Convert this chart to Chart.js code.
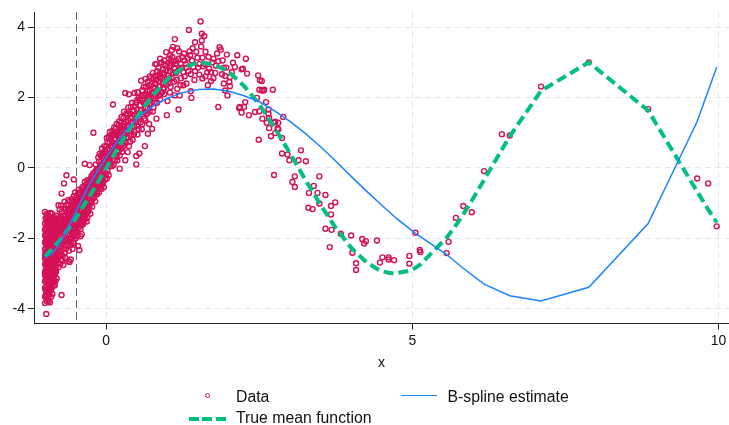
<!DOCTYPE html>
<html>
<head>
<meta charset="utf-8">
<title>B-spline estimate</title>
<script src="https://cdn.jsdelivr.net/npm/chart.js@4.4.1/dist/chart.umd.min.js"></script>
<style>
    html, body { margin: 0; padding: 0; background: #ffffff; }
    #wrap { position: relative; width: 729px; height: 425px; font-family: "Liberation Sans", Arial, sans-serif; }
    #plot { position: absolute; left: 0; top: 0; }
    .lg-text { position: absolute; font-size: 15.8px; line-height: 18px; color: #111; white-space: nowrap; }
    .lg-mark { position: absolute; }
</style>
</head>
<body>
<div id="wrap">
    <canvas id="plot" width="729" height="425"></canvas>
    <div class="lg-mark" style="left:204.6px; top:393px; width:3.2px; height:3.2px; border:1.3px solid #d41159; border-radius:50%;"></div>
    <div class="lg-text" style="left:236px; top:387.5px;">Data</div>
    <div class="lg-mark" style="left:401px; top:395px; width:36px; height:0; border-top:1.5px solid #1a85ff;"></div>
    <div class="lg-text" style="left:447.5px; top:387.5px;">B-spline estimate</div>
    <div class="lg-mark" style="left:189px; top:416.5px; width:37px; height:4px; background:repeating-linear-gradient(to right, #00bf7f 0 10px, transparent 10px 13.5px);"></div>
    <div class="lg-text" style="left:236px; top:409px;">True mean function</div>
</div>
<script>
// Axis ticks and ranges
const xTickValues = [0, 5, 10];
const yTickValues = [-4, -2, 0, 2, 4];
const refLineX = -0.5;

// True mean function (evaluated along the sorted x values)
const trueMeanX = [-1.00, -0.75, -0.50, -0.25, 0.00, 0.25, 0.50, 0.75, 1.00, 1.25, 1.50, 1.75, 2.00, 2.25, 2.50, 2.75,
    3.00, 3.25, 3.50, 3.75, 4.00, 4.25, 4.47, 4.61, 4.70, 4.95, 5.05, 5.13, 5.56, 5.59, 5.71, 5.83, 5.97,
    6.17, 6.46, 6.59, 7.10, 7.88, 8.85, 9.65, 9.83, 9.97];
const trueMeanY = [-2.52, -2.04, -1.44, -0.74, 0.00, 0.74, 1.44, 2.04, 2.52, 2.85, 2.99, 2.95, 2.73, 2.33, 1.80, 1.14,
    0.42, -0.33, -1.05, -1.71, -2.27, -2.68, -2.92, -2.98, -3.00, -2.92, -2.84, -2.74, -1.98, -1.91, -1.63, -1.32, -0.93,
    -0.34, 0.52, 0.90, 2.19, 3.00, 1.63, -0.67, -1.18, -1.55];

// B-spline estimate
const splineX = [-1.00, -0.90, -0.80, -0.70, -0.60, -0.50, -0.40, -0.30, -0.20, -0.10, 0.00, 0.20, 0.40, 0.60, 0.80,
    1.00, 1.25, 1.50, 1.75, 2.00, 2.25, 2.50, 2.75, 3.00, 3.25, 3.50, 3.75, 4.00, 4.25, 4.50, 4.75, 5.05,
    5.56, 5.83, 6.17, 6.59, 7.10, 7.88, 8.85, 9.65, 9.97];
const splineY = [-2.55, -2.45, -2.25, -1.95, -1.62, -1.27, -0.90, -0.55, -0.25, 0.02, 0.30, 0.80, 1.22, 1.55, 1.80,
    1.98, 2.14, 2.23, 2.24, 2.18, 2.05, 1.88, 1.62, 1.32, 0.98, 0.60, 0.19, -0.24, -0.66, -1.06, -1.45, -1.86,
    -2.46, -2.85, -3.30, -3.63, -3.78, -3.39, -1.58, 1.32, 2.87];

// Observed data, [x, y] pairs, grouped by region of x
const dataLeft = [
    [-1.00,-2.31],[-1.00,-2.74],[-1.00,-3.05],[-1.00,-1.92],[-1.00,-2.55],[-1.00,-3.41],[-1.00,-1.58],[-1.00,-1.25],[-1.00,-3.66],
    [-0.99,-2.62],[-0.99,-2.08],[-0.99,-3.22],[-0.99,-1.71],[-0.99,-2.89],[-0.99,-3.63],[-0.99,-2.40],
    [-0.98,-4.15],[-0.98,-2.47],[-0.98,-1.99],[-0.98,-3.10],[-0.98,-2.71],[-0.98,-1.45],[-0.98,-3.37],
    [-0.97,-2.20],[-0.97,-2.95],[-0.97,-1.83],[-0.97,-3.52],[-0.97,-2.58],[-0.97,-3.79],[-0.97,-1.30],
    [-0.96,-2.36],[-0.96,-3.01],[-0.96,-1.65],[-0.96,-2.79],[-0.96,-3.28],[-0.96,-2.12],[-0.96,-1.95],
    [-0.95,-2.67],[-0.95,-1.52],[-0.95,-3.45],[-0.95,-2.25],[-0.95,-2.93],[-0.95,-3.70],[-0.95,-2.03],
    [-0.94,-2.45],[-0.94,-1.88],[-0.94,-3.16],[-0.94,-2.70],[-0.94,-1.62],[-0.94,-3.78],[-0.94,-2.28],
    [-0.93,-2.15],[-0.93,-2.84],[-0.93,-3.33],[-0.93,-1.41],[-0.93,-2.52],[-0.93,-1.97],[-0.93,-3.08],
    [-0.92,-2.58],[-0.92,-1.76],[-0.92,-3.22],[-0.92,-2.34],[-0.92,-2.99],[-0.92,-1.55],[-0.92,-3.82],
    [-0.91,-2.04],[-0.91,-2.77],[-0.91,-3.48],[-0.91,-1.90],[-0.91,-2.41],[-0.91,-1.28],[-0.91,-3.13],
    [-0.90,-2.29],[-0.90,-1.68],[-0.90,-2.86],[-0.90,-3.30],[-0.90,-2.11],[-0.90,-3.66],[-0.90,-1.84],
    [-0.89,-2.50],[-0.89,-1.95],[-0.89,-3.04],[-0.89,-2.63],[-0.89,-1.49],[-0.89,-2.22],[-0.89,-3.41],
    [-0.88,-2.18],[-0.88,-3.58],[-0.88,-2.71],[-0.88,-1.73],[-0.88,-2.40],[-0.88,-3.12],[-0.88,-1.60],
    [-0.87,-2.06],[-0.87,-2.55],[-0.87,-1.82],[-0.87,-3.26],[-0.87,-2.88],[-0.87,-1.45],[-0.87,-2.33],
    [-0.86,-2.26],[-0.86,-1.64],[-0.86,-2.95],[-0.86,-2.47],[-0.86,-1.94],[-0.86,-3.35],[-0.86,-2.70],
    [-0.85,-1.97],[-0.85,-2.62],[-0.85,-1.58],[-0.85,-2.81],[-0.85,-3.18],[-0.85,-2.14],[-0.85,-1.40],
    [-0.84,-2.12],[-0.84,-1.80],[-0.84,-2.58],[-0.84,-3.02],[-0.84,-1.52],[-0.84,-2.37],[-0.84,-3.33],
    [-0.83,-1.88],[-0.83,-2.45],[-0.83,-2.96],[-0.83,-1.68],[-0.83,-2.20],[-0.83,-1.47],[-0.83,-3.21],
    [-0.82,-2.03],[-0.82,-1.60],[-0.82,-2.52],[-0.82,-2.78],[-0.82,-1.86],[-0.82,-2.31],[-0.82,-1.35],
    [-1.00,-2.12],[-1.00,-2.98],[-1.00,-1.76],[-1.00,-3.22],[-1.00,-2.47],[-1.00,-3.84],
    [-0.99,-1.88],[-0.99,-2.51],[-0.99,-3.46],[-0.99,-1.42],[-0.99,-2.95],
    [-0.98,-2.26],[-0.98,-1.70],[-0.98,-2.88],[-0.98,-3.58],[-0.98,-2.05],
    [-0.97,-2.41],[-0.97,-1.58],[-0.97,-3.18],[-0.97,-2.74],[-0.97,-2.00],
    [-0.96,-2.60],[-0.96,-1.40],[-0.96,-3.52],[-0.96,-2.18],[-0.96,-3.05],
    [-0.95,-1.80],[-0.95,-2.44],[-0.95,-3.15],[-0.95,-2.82],[-0.95,-1.33],
    [-0.94,-2.10],[-0.94,-3.40],[-0.94,-2.55],[-0.94,-1.95],[-0.94,-2.97],
    [-0.93,-2.68],[-0.93,-1.72],[-0.93,-3.60],[-0.93,-2.35],[-0.93,-1.85],
    [-0.92,-2.10],[-0.92,-2.80],[-0.92,-1.95],[-0.92,-2.46],[-0.92,-3.40],
    [-0.91,-2.59],[-0.91,-1.60],[-0.91,-3.00],[-0.91,-2.22],[-0.91,-1.75],
    [-0.90,-2.48],[-0.90,-1.45],[-0.90,-3.10],[-0.90,-2.65],[-0.90,-1.98],
    [-0.89,-1.72],[-0.89,-2.80],[-0.89,-3.25],[-0.89,-2.05],[-0.89,-1.30],
    [-0.88,-2.55],[-0.88,-1.90],[-0.88,-2.98],[-0.88,-2.25],[-0.88,-1.42],
    [-0.87,-2.70],[-0.87,-1.62],[-0.87,-3.05],[-0.87,-2.18],
    [-0.86,-2.05],[-0.86,-1.78],[-0.86,-2.60],[-0.86,-3.10],
    [-0.85,-2.35],[-0.85,-1.85],[-0.85,-2.92],[-0.85,-1.62],
    [-0.84,-2.48],[-0.84,-1.95],[-0.84,-2.75],[-0.84,-1.65],
    [-0.83,-2.62],[-0.83,-2.05],[-0.83,-1.55],[-0.83,-2.85],
    [-0.82,-2.20],[-0.82,-1.72],[-0.82,-2.95],[-0.82,-2.45]
];

const dataRise = [
    [-0.80,-2.03],[-0.80,-2.60],[-0.80,-1.54],[-0.80,-2.23],[-0.81,-3.14],
    [-0.78,-1.78],[-0.78,-2.82],[-0.78,-1.06],[-0.78,-2.36],
    [-0.76,-1.82],[-0.76,-2.38],[-0.76,-1.18],[-0.76,-2.25],[-0.76,-1.60],
    [-0.74,-1.55],[-0.74,-2.61],[-0.74,-2.07],[-0.74,-1.07],[-0.74,-2.48],
    [-0.72,-1.56],[-0.72,-1.69],[-0.72,-2.16],[-0.72,-2.64],[-0.72,-1.44],
    [-0.70,-1.82],[-0.70,-1.64],[-0.70,-2.76],[-0.70,-1.51],[-0.73,-3.61],[-0.73,-0.73],
    [-0.68,-1.84],[-0.68,-0.96],[-0.68,-2.41],[-0.68,-1.60],[-0.68,-2.24],
    [-0.65,-0.21],[-0.66,-1.17],[-0.66,-2.30],[-0.66,-1.69],[-0.66,-2.03],
    [-0.64,-1.25],[-0.64,-1.90],[-0.64,-1.50],[-0.62,-2.64],[-0.69,-0.44],
    [-0.62,-1.32],[-0.62,-1.79],[-0.62,-0.92],[-0.60,-2.67],[-0.62,-1.35],
    [-0.60,-1.45],[-0.60,-2.02],[-0.60,-1.18],[-0.60,-2.10],[-0.60,-1.58],
    [-0.58,-1.12],[-0.58,-2.20],[-0.58,-1.59],[-0.58,-2.60],[-0.58,-1.26],
    [-0.56,-1.83],[-0.56,-1.30],[-0.56,-0.88],[-0.56,-2.00],[-0.56,-1.48],
    [-0.54,-1.12],[-0.54,-1.87],[-0.53,-0.33],[-0.54,-1.59],[-0.54,-2.13],
    [-0.52,-1.03],[-0.52,-1.95],[-0.52,-1.20],[-0.52,-1.62],[-0.52,-0.96],
    [-0.50,-1.64],[-0.50,-0.91],[-0.50,-1.49],[-0.50,-2.00],[-0.50,-1.10],
    [-0.48,-1.21],[-0.48,-1.80],[-0.48,-0.98],[-0.48,-1.66],[-0.48,-1.25],
    [-0.46,-1.56],[-0.46,-2.22],[-0.44,-2.33],[-0.46,-1.04],[-0.46,-0.72],
    [-0.44,-1.00],[-0.44,-1.62],[-0.44,-1.44],[-0.44,-0.85],[-0.42,-1.94],
    [-0.42,-0.94],[-0.42,-1.50],[-0.42,-1.39],[-0.42,-0.73],[-0.42,-1.74],
    [-0.40,-1.30],[-0.40,-0.82],[-0.40,-1.52],[-0.40,-0.95],[-0.40,-1.88],
    [-0.38,-0.69],[-0.38,-1.36],[-0.38,-1.00],[-0.38,-1.60],[-0.38,-0.75],
    [-0.36,-0.91],[-0.36,-1.37],[-0.36,-0.52],[-0.36,-1.22],[-0.36,-0.87],
    [-0.35,0.12],[-0.34,-1.12],[-0.34,-0.63],[-0.34,-1.45],[-0.34,-0.80],
    [-0.32,-0.72],[-0.32,-1.24],[-0.32,-0.46],[-0.32,-1.09],[-0.32,-1.52],
    [-0.30,-0.61],[-0.30,-1.02],[-0.27,0.08],[-0.30,-1.25],[-0.30,-0.53],
    [-0.81,-2.45],[-0.81,-1.75],[-0.81,-1.98],[-0.79,-2.20],[-0.79,-1.45],[-0.79,-2.70],[-0.79,-1.90],
    [-0.77,-1.65],[-0.77,-2.50],[-0.77,-2.05],[-0.75,-1.40],[-0.75,-2.15],[-0.75,-1.88],[-0.75,-2.72],
    [-0.73,-1.78],[-0.73,-2.35],[-0.73,-1.25],[-0.71,-2.08],[-0.71,-1.35],[-0.71,-1.72],[-0.71,-2.50],
    [-0.69,-1.52],[-0.69,-2.10],[-0.69,-1.15],[-0.67,-1.95],[-0.67,-1.38],[-0.67,-2.55],[-0.67,-1.70],
    [-0.65,-1.48],[-0.65,-2.20],[-0.65,-1.05],[-0.63,-1.62],[-0.63,-2.05],[-0.63,-1.18],[-0.63,-1.40],
    [-0.61,-1.90],[-0.61,-1.05],[-0.61,-2.35],[-0.59,-1.38],[-0.59,-1.75],[-0.59,-0.95],[-0.59,-2.00],
    [-0.57,-1.50],[-0.57,-2.15],[-0.57,-1.15],[-0.55,-1.68],[-0.55,-0.98],[-0.55,-1.35],[-0.55,-2.30],
    [-0.53,-1.28],[-0.53,-1.75],[-0.53,-0.80],[-0.51,-1.42],[-0.51,-1.85],[-0.51,-1.08],[-0.51,-0.70],
    [-0.49,-1.55],[-0.49,-1.15],[-0.49,-0.85],[-0.47,-1.30],[-0.47,-1.95],[-0.47,-0.95],[-0.47,-1.48],
    [-0.45,-1.12],[-0.45,-1.70],[-0.45,-0.62],[-0.43,-1.35],[-0.43,-0.88],[-0.43,-1.58],[-0.43,-1.05],
    [-0.41,-1.20],[-0.41,-0.65],[-0.41,-1.62],[-0.39,-0.85],[-0.39,-1.45],[-0.39,-1.10],[-0.39,-0.55],
    [-0.37,-1.25],[-0.37,-0.78],[-0.37,-1.55],[-0.35,-0.70],[-0.35,-1.15],[-0.35,-0.40],[-0.35,-0.95],
    [-0.33,-0.98],[-0.33,-0.55],[-0.33,-1.30],[-0.31,-0.82],[-0.31,-0.35],[-0.31,-1.05],[-0.31,-1.40],
    [-0.28,-0.55],[-0.28,-1.10],[-0.28,-0.38],[-0.26,-0.92],[-0.26,-0.41],[-0.26,-1.30],
    [-0.24,-0.60],[-0.24,-0.98],[-0.24,-0.23],[-0.22,-0.31],[-0.22,-0.88],[-0.22,-0.52],
    [-0.21,1.00],[-0.20,-0.72],[-0.20,-0.35],[-0.18,-0.40],[-0.18,-0.95],[-0.18,-0.11],
    [-0.16,-0.21],[-0.16,-0.66],[-0.16,-0.05],[-0.14,-0.57],[-0.14,-0.02],[-0.14,-0.35],
    [-0.12,-0.10],[-0.12,-0.70],[-0.12,0.18],[-0.10,-0.45],[-0.10,0.05],[-0.10,-0.22],
    [-0.08,-0.38],[-0.08,0.20],[-0.08,-0.60],[-0.06,0.11],[-0.06,-0.29],[-0.06,0.43],
    [-0.04,-0.21],[-0.04,0.26],[-0.04,-0.55],[-0.02,0.15],[-0.02,-0.33],[-0.02,0.47],
    [0.00,0.22],[0.00,-0.15],[0.00,0.60],[0.02,-0.08],[0.02,0.41],[0.02,0.74],
    [0.04,0.30],[0.04,-0.21],[0.04,0.88],[0.06,0.52],[0.06,0.05],[0.06,1.02],
    [0.08,0.13],[0.08,0.63],[0.08,0.40],[0.10,0.72],[0.10,0.24],[0.10,1.05],
    [0.11,1.80],[0.12,0.51],[0.12,0.08],[0.14,0.65],[0.14,0.95],[0.14,0.22],
    [0.16,0.83],[0.16,0.37],[0.16,1.12],[0.18,0.59],[0.18,1.00],[0.18,0.21],
    [0.20,0.88],[0.20,0.44],[0.20,1.21],[0.22,0.70],[0.22,-0.02],[0.22,0.35],
    [0.24,0.99],[0.24,0.55],[0.24,1.28],[0.26,0.81],[0.26,1.19],[0.26,0.46],
    [0.28,1.10],[0.28,0.62],[0.28,1.42],[0.30,0.74],[0.31,0.22],[0.30,0.95],
    [-0.29,-0.70],[-0.29,-1.20],[-0.27,-0.48],[-0.27,-0.85],[-0.27,-1.05],[-0.25,-0.75],[-0.25,-0.30],
    [-0.23,-0.45],[-0.23,-1.10],[-0.23,-0.62],[-0.21,-0.55],[-0.21,-0.15],[-0.19,-0.80],[-0.19,-0.28],
    [-0.19,-0.60],[-0.17,-0.35],[-0.17,0.10],[-0.15,-0.75],[-0.15,-0.12],[-0.15,-0.50],[-0.13,-0.25],
    [-0.13,0.30],[-0.11,-0.55],[-0.11,-0.02],[-0.11,0.40],[-0.09,-0.12],[-0.09,0.35],[-0.07,-0.48],
    [-0.07,0.02],[-0.07,0.55],[-0.05,0.05],[-0.05,-0.40],[-0.03,0.32],[-0.03,-0.10],[-0.03,0.62],
    [-0.01,0.08],[-0.01,0.45],[0.01,0.28],[0.01,-0.30],[0.01,0.85],[0.03,0.55],[0.03,0.12],
    [0.05,0.70],[0.05,0.22],[0.05,0.38],[0.07,0.85],[0.07,0.30],[0.09,0.48],[0.09,0.95],[0.09,0.05],
    [0.11,0.60],[0.11,0.35],[0.13,0.80],[0.13,1.15],[0.13,0.42],[0.15,0.55],[0.15,1.00],[0.17,0.70],
    [0.17,1.25],[0.17,0.30],[0.19,0.92],[0.19,0.50],[0.21,1.05],[0.21,0.62],[0.21,1.32],[0.23,0.85],
    [0.23,1.15],[0.25,0.55],[0.25,1.05],[0.25,1.45],[0.27,0.95],[0.27,0.70],[0.29,1.25],[0.29,0.85],[0.29,1.60]
];

const dataPeak = [
    [0.32,1.31],[0.32,0.70],[0.31,2.13],[0.35,1.52],[0.35,0.88],[0.35,1.20],[0.35,0.45],
    [0.37,2.09],[0.37,1.15],[0.37,0.62],[0.40,1.40],[0.40,0.92],[0.40,1.73],[0.40,1.05],
    [0.43,1.62],[0.43,0.80],[0.43,1.28],[0.46,2.13],[0.46,1.50],[0.46,1.02],[0.46,1.75],
    [0.49,0.34],[0.49,0.10],[0.49,1.38],[0.50,1.66],[0.50,1.20],[0.50,1.92],
    [0.53,1.45],[0.53,2.00],[0.53,1.10],[0.54,0.41],[0.56,1.78],[0.57,2.48],[0.56,1.30],[0.56,1.62],
    [0.59,1.93],[0.59,1.25],[0.59,2.21],[0.62,1.58],[0.62,2.05],[0.62,1.40],[0.63,0.62],
    [0.64,2.53],[0.65,1.85],[0.65,2.30],[0.65,1.52],[0.68,2.02],[0.68,1.70],[0.68,2.45],[0.68,0.97],
    [0.71,2.20],[0.71,1.60],[0.71,1.95],[0.71,2.60],[0.74,2.38],[0.74,1.82],[0.74,2.12],[0.75,1.11],
    [0.77,2.55],[0.77,1.98],[0.77,1.72],[0.77,2.30],[0.80,2.05],[0.80,2.62],[0.80,2.95],[0.80,2.40],
    [0.82,1.40],[0.83,2.75],[0.83,2.20],[0.83,1.85],[0.85,2.85],[0.86,2.45],[0.86,2.05],[0.88,2.32],
    [0.89,2.60],[0.89,2.15],[0.90,3.00],[0.92,2.40],[0.93,2.27],[0.93,2.80],[0.92,2.70],
    [0.95,2.52],[0.95,3.05],[0.95,2.10],[0.98,2.78],[0.98,3.29],[0.98,2.35],[0.99,1.50],
    [0.33,1.05],[0.33,1.55],[0.33,0.85],[0.36,1.35],[0.36,1.72],[0.39,1.10],[0.39,1.55],[0.39,0.75],
    [0.42,1.45],[0.42,1.85],[0.45,1.20],[0.45,1.62],[0.45,0.95],[0.48,1.85],[0.48,1.30],[0.51,1.52],
    [0.51,2.15],[0.51,0.95],[0.55,1.95],[0.55,1.40],[0.58,1.65],[0.58,2.05],[0.58,1.10],[0.61,1.85],
    [0.61,2.30],[0.64,1.70],[0.64,2.10],[0.64,1.35],[0.67,2.18],[0.67,1.55],[0.70,2.35],[0.70,1.80],
    [0.70,1.25],[0.73,2.55],[0.73,2.00],[0.76,2.15],[0.76,2.70],[0.76,1.60],[0.79,2.25],[0.79,1.85],
    [0.82,2.50],[0.82,2.95],[0.82,2.10],[0.85,2.62],[0.85,2.15],[0.88,2.70],[0.88,1.95],[0.88,3.10],
    [0.91,2.55],[0.91,2.15],[0.94,2.65],[0.94,2.95],[0.94,2.25],[0.97,2.45],[0.97,2.90],
    [1.02,3.10],[1.05,2.98],[1.08,3.15],[1.06,2.90],[1.10,3.02],[1.03,2.85],[1.09,3.44],[1.12,3.66],
    [1.05,2.30],[1.04,2.14],[1.12,2.06],[1.20,2.06],[1.18,1.66],[1.19,3.31],[1.20,2.80],[1.26,2.72],
    [1.26,2.35],[1.33,3.12],[1.36,3.31],[1.37,3.20],[1.35,3.92],[1.38,2.66],[1.38,2.18],[1.39,1.99],
    [1.41,3.40],[1.42,2.87],[1.45,3.57],[1.49,3.13],[1.54,4.16],[1.56,3.81],[1.56,3.62],[1.57,3.13],
    [1.57,2.54],[1.58,2.89],[1.60,3.75],[1.65,2.72],[1.67,3.15],[1.68,2.82],[1.71,2.72],[1.71,2.47],
    [1.83,3.03],[1.83,1.73],[1.85,3.43],[1.87,3.36],[1.89,2.66],[1.94,2.61],[1.94,2.20],[1.97,3.22],
    [1.98,2.06],
    [1.01,2.62],[1.01,2.40],[1.04,2.75],[1.04,3.20],[1.07,2.55],[1.07,3.35],[1.11,2.85],[1.11,2.45],
    [1.14,3.05],[1.14,2.70],[1.16,2.25],[1.16,3.40],[1.22,2.95],[1.22,2.55],[1.24,3.15],[1.28,2.60],
    [1.28,3.05],[1.31,2.40],[1.31,2.85],[1.45,2.75],[1.52,2.95],[1.52,2.65],[1.62,3.30],[1.62,2.60],
    [1.75,3.10],[1.75,2.55],[1.79,2.90],[1.92,2.85],[1.92,2.40],
    [1.00,1.90],[1.03,2.55],[1.06,3.05],[1.09,2.70],[1.13,2.95],[1.15,2.50],[1.18,3.10],[1.21,2.35],
    [1.23,2.85],[1.27,3.25],[1.30,2.95],[1.34,2.75],[1.40,3.05],[1.44,2.50],[1.47,3.30],[1.50,2.85],
    [1.55,3.45],[1.61,2.95],[1.66,2.35],[1.73,3.00],[1.78,2.70],[1.81,3.25],[1.90,3.05],[1.96,2.85]
];

const dataFall = [
    [2.01,2.44],[2.02,2.58],[2.02,2.32],[2.05,2.72],[2.07,2.99],[2.10,2.87],[2.14,3.20],[2.17,1.70],
    [2.18,1.73],[2.21,2.80],[2.21,1.57],[2.23,2.82],[2.25,1.73],[2.27,1.87],[2.28,3.10],[2.30,2.68],
    [2.33,1.50],[2.43,1.59],[2.46,1.99],[2.48,2.63],[2.49,0.80],[2.50,2.22],[2.51,2.49],[2.50,1.61],
    [2.54,2.47],[2.54,2.20],[2.55,1.40],[2.57,2.20],[2.58,2.22],[2.61,1.87],[2.62,1.28],[2.65,1.54],
    [2.65,1.66],[2.66,1.42],[2.66,1.13],[2.69,0.90],[2.72,2.22],[2.74,1.29],[2.74,-0.20],[2.76,1.31],
    [2.76,0.99],[2.80,1.12],[2.81,1.28],[2.81,1.10],[2.87,0.85],[2.87,0.41],[2.89,1.45],[2.96,0.38],
    [2.99,0.22],[3.04,-0.40],[3.08,-0.24],[3.08,-0.54],[3.14,0.22],[3.18,0.50],[3.26,0.19],[3.30,-1.13],
    [3.31,-0.71],[3.37,-1.17],[3.39,-0.51],[3.45,-0.71],[3.48,-0.24],[3.48,-1.01],[3.58,-0.77],[3.58,-1.73],
    [3.65,-2.25],[3.67,-1.08],[3.67,-1.32],[3.68,-1.76],[3.74,-0.98],[3.83,-1.87],[4.00,-1.92],[4.02,-2.41],
    [4.08,-2.71],[4.08,-2.90],[4.18,-2.02],[4.21,-2.15],[4.24,-2.08],[4.42,-2.06],[4.47,-2.69],[4.51,-2.54],
    [4.61,-2.54],[4.61,-2.60],[4.70,-2.62]
];

const dataSparse = [
    [4.95,-2.50],[4.95,-2.72],[5.05,-1.84],[5.12,-2.33],[5.13,-2.39],[5.56,-2.42],[5.59,-2.10],
    [5.71,-1.42],[5.83,-1.08],[5.97,-1.26],[6.17,-0.09],[6.46,0.96],[6.59,0.92],[7.10,2.31],
    [7.88,3.00],[8.85,1.67],[9.65,-0.30],[9.83,-0.44],[9.97,-1.66]
];

let mainChart = null;

/**
 * Dashed vertical reference line, drawn beneath the data
 */
const refLinePlugin = {
    id: 'refLine',
    beforeDatasetsDraw(chart) {
        const { ctx, chartArea, scales } = chart;
        const px = Math.round(scales.x.getPixelForValue(refLineX)) + 0.5;
        ctx.save();
        ctx.strokeStyle = '#666666';
        ctx.lineWidth = 1;
        ctx.setLineDash([8, 4]);
        ctx.beginPath();
        ctx.moveTo(px, chartArea.top);
        ctx.lineTo(px, chartArea.bottom);
        ctx.stroke();
        ctx.restore();
    }
};

function toPoints(xs, ys) {
    return xs.map((x, i) => ({ x: x, y: ys[i] }));
}

function renderChart() {
    const ctx = document.getElementById('plot');
    if (mainChart) {
        mainChart.destroy();
    }

    const scatterPoints = [].concat(dataLeft, dataRise, dataPeak, dataFall, dataSparse)
        .map(p => ({ x: p[0], y: p[1] }));

    const tickFont = { family: '"Liberation Sans", Arial, sans-serif', size: 14 };
    const gridOpts = {
        color: '#e6e6e6',
        lineWidth: 1,
        drawTicks: true,
        tickLength: 6,
        tickColor: '#222222',
        tickWidth: 1,
        tickBorderDash: []
    };
    const borderOpts = { display: true, color: '#222222', width: 1, dash: [6, 4] };

    mainChart = new Chart(ctx, {
        type: 'scatter',
        data: {
            datasets: [
                {
                    label: 'B-spline estimate',
                    type: 'line',
                    data: toPoints(splineX, splineY),
                    borderColor: '#1a85ff',
                    borderWidth: 1.5,
                    pointRadius: 0,
                    tension: 0,
                    fill: false
                },
                {
                    label: 'True mean function',
                    type: 'line',
                    data: toPoints(trueMeanX, trueMeanY),
                    borderColor: '#00bf7f',
                    borderWidth: 4,
                    borderDash: [10, 5],
                    borderCapStyle: 'butt',
                    pointRadius: 0,
                    tension: 0,
                    fill: false
                },
                {
                    label: 'Data',
                    data: scatterPoints,
                    showLine: false,
                    pointStyle: 'circle',
                    pointRadius: 2.5,
                    pointBorderWidth: 1.4,
                    pointBorderColor: '#d41159',
                    pointBackgroundColor: 'rgba(0,0,0,0)'
                }
            ]
        },
        options: {
            responsive: false,
            animation: false,
            devicePixelRatio: 1,
            layout: { autoPadding: false, padding: { top: 12, right: 0, bottom: 51.5, left: 0 } },
            plugins: {
                legend: { display: false },
                tooltip: { enabled: false }
            },
            scales: {
                x: {
                    type: 'linear',
                    min: -1.18,
                    max: 10.17,
                    afterBuildTicks: (scale) => { scale.ticks = xTickValues.map(v => ({ value: v })); },
                    afterFit: (scale) => {
                        scale.height = 50;
                        scale.paddingLeft = 0;
                        scale.paddingRight = 0;
                    },
                    grid: gridOpts,
                    border: borderOpts,
                    ticks: { color: '#111111', font: tickFont, padding: 3, maxRotation: 0, autoSkip: false },
                    title: {
                        display: true,
                        text: 'x',
                        color: '#111111',
                        font: tickFont,
                        padding: { top: 0, bottom: 2 }
                    }
                },
                y: {
                    type: 'linear',
                    min: -4.42,
                    max: 4.43,
                    afterBuildTicks: (scale) => { scale.ticks = yTickValues.map(v => ({ value: v })); },
                    afterFit: (scale) => {
                        scale.width = 34;
                        scale.paddingTop = 0;
                        scale.paddingBottom = 0;
                    },
                    grid: gridOpts,
                    border: borderOpts,
                    ticks: { color: '#111111', font: tickFont, padding: 3, autoSkip: false }
                }
            }
        },
        plugins: [refLinePlugin]
    });
}

renderChart();
</script>
</body>
</html>
